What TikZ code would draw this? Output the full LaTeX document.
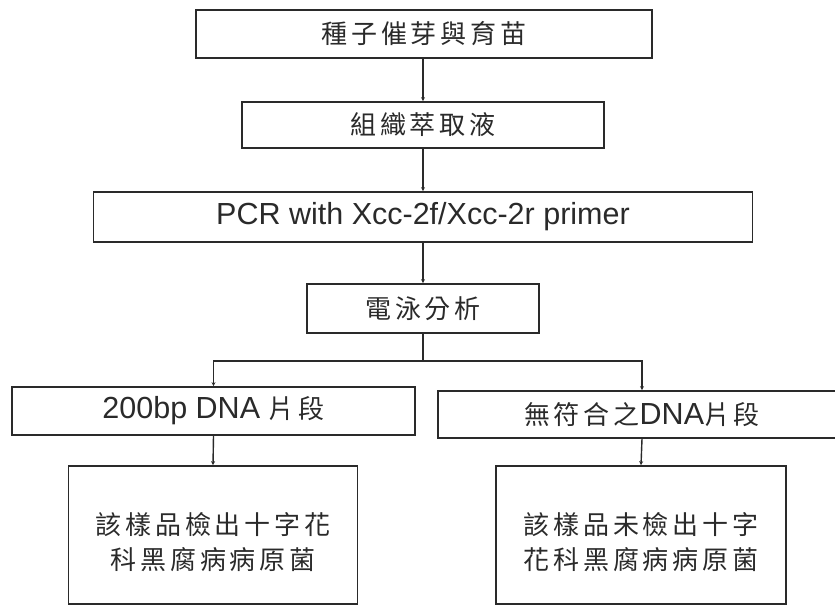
\documentclass[tikz,border=0pt]{standalone}
\usepackage{fontspec}
\setmainfont{Liberation Sans}
\newfontfamily\cjk{Noto Sans CJK TC}[LetterSpace=15]
\usetikzlibrary{arrows.meta}
\definecolor{ink}{HTML}{2A2A2A}
\tikzset{
  box/.style={draw=ink, line width=1.7pt, rectangle, inner sep=0pt, text=ink},
  conn/.style={draw=ink, line width=1.4pt, -{Stealth[length=4pt,width=4pt]}},
  plain/.style={draw=ink, line width=1.4pt},
  cjkt/.style={font=\fontsize{26}{35}\selectfont\cjk, text=ink},
  latt/.style={font=\fontsize{30.5}{36}\selectfont, text=ink}
}
\newcommand{\cj}[1]{{\fontsize{26}{35}\selectfont\cjk #1}}
\begin{document}
\begin{tikzpicture}[x=1pt,y=-1pt]
\useasboundingbox (0,0) rectangle (835,607);
\clip (0,0) rectangle (835,607);
\node[box, minimum width=456pt, minimum height=48pt, cjkt] (b1) at (424,34) {種子催芽與育苗};
\node[box, minimum width=362pt, minimum height=46pt, cjkt] (b2) at (423,125) {組織萃取液};
\node[box, minimum width=659pt, minimum height=50pt, latt] (b3) at (423,217) {PCR with Xcc-2f/Xcc-2r primer};
\node[box, minimum width=232pt, minimum height=49pt, cjkt] (b4) at (423,308.5) {電泳分析};
\node[box, minimum width=403pt, minimum height=48pt, latt] (l1) at (213.5,411) {200bp DNA \cj{片段}};
\node[box, minimum width=408pt, minimum height=47pt, latt] (r1) at (642,414.5) {\cj{無符合之}DNA\cj{片段}};
\node[box, minimum width=289pt, minimum height=138pt] (l2) at (213,535) {};
\node[box, minimum width=290pt, minimum height=138pt] (r2) at (641,535) {};
\node[cjkt, align=center] (lt) at (213,542) {該樣品檢出十字花\\科黑腐病病原菌};
\node[cjkt, align=center] (rt) at (641,542) {該樣品未檢出十字\\花科黑腐病病原菌};
\coordinate (br) at (423,361);
\draw[conn] (b1.south -| 423,0) -- (b2.north -| 423,0);
\draw[conn] (b2.south -| 423,0) -- (b3.north -| 423,0);
\draw[conn] (b3.south -| 423,0) -- (b4.north -| 423,0);
\draw[plain] (b4.south -| 423,0) -- (br);
\draw[conn] (br) -| (l1.north);
\draw[conn] (br) -| (r1.north);
\draw[conn] (l1.south) -- (l2.north);
\draw[conn] (r1.south) -- (r2.north);
\end{tikzpicture}
\end{document}
